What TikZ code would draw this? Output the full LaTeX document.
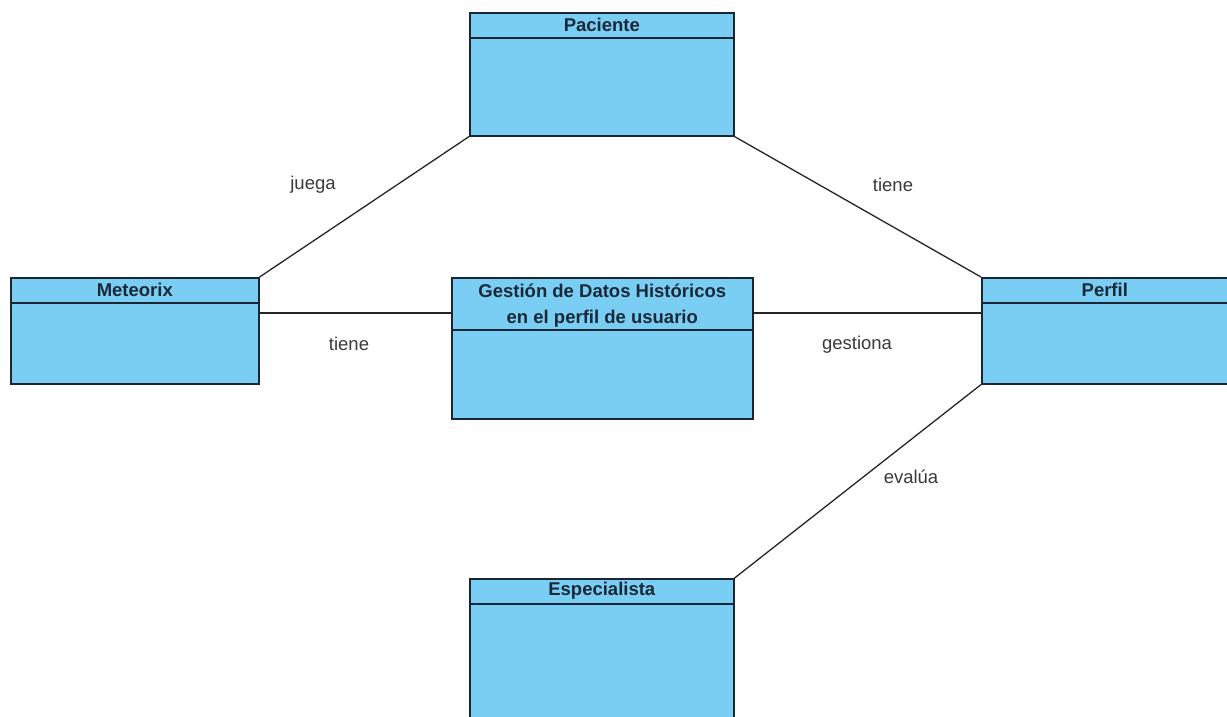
\documentclass[tikz,border=0pt]{standalone}
\usepackage{fontspec}
\setmainfont[Ligatures=NoCommon]{Liberation Sans}
\definecolor{boxfill}{HTML}{7ACEF3}
\definecolor{boxline}{HTML}{1A2633}
\definecolor{headtext}{HTML}{1B2838}
\definecolor{labtext}{HTML}{3A3A3A}
\tikzset{
  classbox/.style={draw=boxline, line width=1.6pt, fill=boxfill, rectangle, anchor=north west, inner sep=0pt},
  headline/.style={draw=boxline, line width=1.6pt},
  headlabel/.style={font=\fontsize{18.5}{26}\selectfont\bfseries, text=headtext, align=center, inner sep=0pt},
  assoc/.style={draw=black!85, line width=1.3pt},
  asslabel/.style={font=\fontsize{18.5}{22}\selectfont, text=labtext, inner sep=0pt}
}
\begin{document}
\begin{tikzpicture}[x=1pt,y=-1pt]
\useasboundingbox (0,0) rectangle (1227,717);
\clip (0,0) rectangle (1227,717);
\fill[white] (0,0) rectangle (1227,717);
% boxes
\node[classbox, minimum width=264pt, minimum height=123pt] (pac) at (469,12) {};
\node[classbox, minimum width=248pt, minimum height=106pt] (met) at (10,277) {};
\node[classbox, minimum width=301pt, minimum height=141pt] (ges) at (451,277) {};
\node[classbox, minimum width=246pt, minimum height=106pt] (per) at (981,277) {};
\node[classbox, minimum width=264pt, minimum height=160pt] (esp) at (469,578) {};
% header separators
\draw[headline] ([yshift=-26pt]pac.north west) -- ([yshift=-26pt]pac.north east);
\draw[headline] ([yshift=-26pt]met.north west) -- ([yshift=-26pt]met.north east);
\draw[headline] ([yshift=-53pt]ges.north west) -- ([yshift=-53pt]ges.north east);
\draw[headline] ([yshift=-26pt]per.north west) -- ([yshift=-26pt]per.north east);
\draw[headline] ([yshift=-26pt]esp.north west) -- ([yshift=-26pt]esp.north east);
% header texts
\node[headlabel] (pact) at ([yshift=-13pt]pac.north) {Paciente};
\node[headlabel] (mett) at ([yshift=-13pt]met.north) {Meteorix};
\node[headlabel] (gest) at ([yshift=-29pt]ges.north) {Gestión de Datos Históricos\\en el perfil de usuario};
\node[headlabel] (pert) at ([yshift=-13pt]per.north) {Perfil};
\node[headlabel] (espt) at ([yshift=-13pt]esp.north) {Especialista};
% connectors
\draw[assoc] (met.north east) -- (pac.south west);
\draw[assoc] (pac.south east) -- (per.north west);
\draw[assoc] ([yshift=-36pt]met.north east) -- ([yshift=-36pt]ges.north west);
\draw[assoc] ([yshift=-36pt]ges.north east) -- ([yshift=-36pt]per.north west);
\draw[assoc] (per.south west) -- (esp.north east);
% labels
\node[asslabel] (l1) at (313,185) {juega};
\node[asslabel] (l2) at (893,185) {tiene};
\node[asslabel] (l3) at (349,344) {tiene};
\node[asslabel] (l4) at (857,345) {gestiona};
\node[asslabel] (l5) at (911,477) {evalúa};
\end{tikzpicture}
\end{document}
